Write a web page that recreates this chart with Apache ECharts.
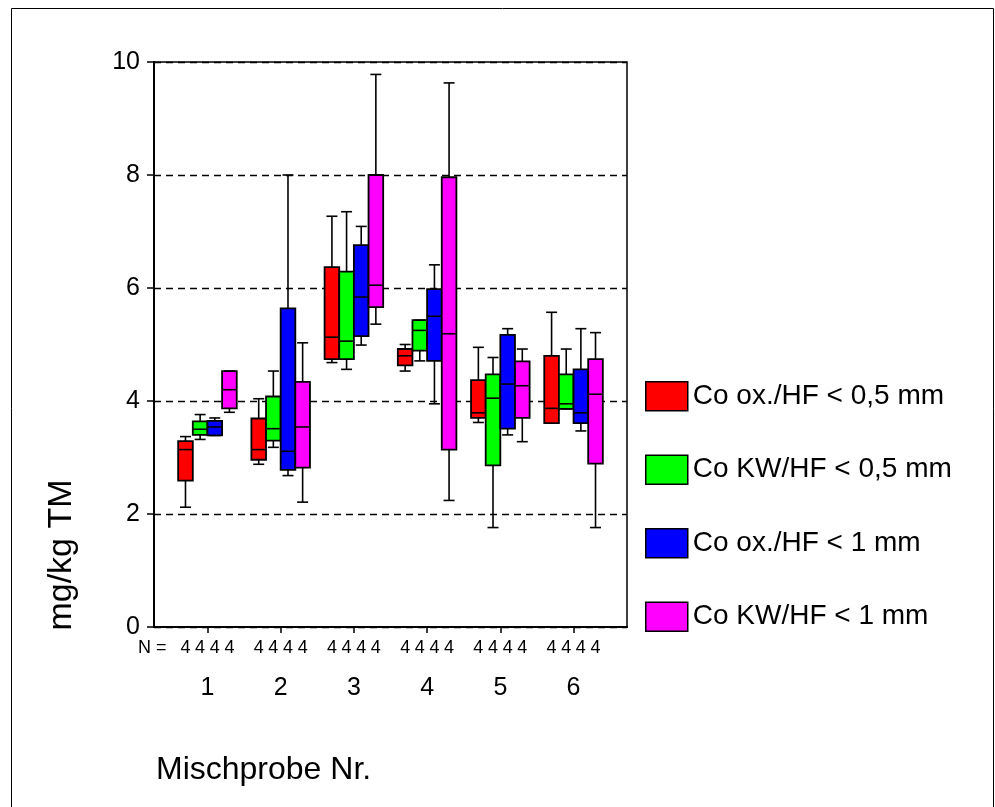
<!DOCTYPE html>
<html>
<head>
<meta charset="utf-8">
<script src="https://cdn.jsdelivr.net/npm/echarts@6/dist/echarts.min.js"></script>
<style>
html,body{margin:0;padding:0;background:#fff;}
#chart{width:995px;height:807px;}
</style>
</head>
<body>
<div id="chart"></div>
<script>
// Category labels (Mischprobe Nr.)
const categories = ['1', '2', '3', '4', '5', '6'];
// y-axis tick labels
const yTicks = [0, 2, 4, 6, 8, 10];
// N per box
const nCounts = [4, 4, 4, 4, 4, 4];
// Each entry: [min, Q1, median, Q3, max]
const oxHF05 = [
  [2.12, 2.59, 3.14, 3.29, 3.37],
  [2.88, 2.96, 3.14, 3.69, 4.04],
  [4.68, 4.74, 5.13, 6.37, 7.27],
  [4.53, 4.63, 4.80, 4.92, 5.00],
  [3.62, 3.70, 3.79, 4.37, 4.95],
  [3.61, 3.61, 3.87, 4.80, 5.57]
];
const kwHF05 = [
  [3.32, 3.40, 3.50, 3.64, 3.76],
  [3.18, 3.30, 3.51, 4.08, 4.53],
  [4.56, 4.74, 5.06, 6.29, 7.35],
  [4.71, 4.89, 5.25, 5.43, 5.43],
  [1.76, 2.86, 4.05, 4.47, 4.77],
  [3.86, 3.86, 3.95, 4.47, 4.92]
];
const oxHF1 = [
  [3.39, 3.39, 3.54, 3.65, 3.70],
  [2.68, 2.78, 3.11, 5.64, 8.00],
  [4.99, 5.15, 5.84, 6.76, 7.09],
  [3.95, 4.71, 5.50, 5.98, 6.41],
  [3.40, 3.51, 4.30, 5.17, 5.28],
  [3.47, 3.61, 3.79, 4.56, 5.28]
];
const kwHF1 = [
  [3.80, 3.87, 4.20, 4.53, 4.53],
  [2.21, 2.82, 3.54, 4.34, 5.03],
  [5.36, 5.66, 6.05, 8.00, 9.78],
  [2.24, 3.14, 5.19, 7.96, 9.63],
  [3.28, 3.70, 4.27, 4.70, 4.92],
  [1.76, 2.89, 4.12, 4.74, 5.21]
];
const seriesNames = ['Co ox./HF < 0,5 mm', 'Co KW/HF < 0,5 mm', 'Co ox./HF < 1 mm', 'Co KW/HF < 1 mm'];
const seriesColors = ['#ff0000', '#00ff00', '#0000ff', '#ff00ff'];
const seriesData = [oxHF05, kwHF05, oxHF1, kwHF1];

const FONT = '"Liberation Sans", Arial, sans-serif';
const BOXW = 0.2;
const CAPW = 0.15;
const offsets = [-0.3, -0.1, 0.1, 0.3];

function makeRender(offset, color) {
  return function (params, api) {
    const x = api.value(0) + offset;
    const lo = api.value(1), q1 = api.value(2), med = api.value(3), q3 = api.value(4), hi = api.value(5);
    const n = api.value(6);
    const pTL = api.coord([x - BOXW / 2, q3]);
    const pBR = api.coord([x + BOXW / 2, q1]);
    const pHi = api.coord([x, hi]);
    const pLo = api.coord([x, lo]);
    const pMedL = api.coord([x - BOXW / 2, med]);
    const pMedR = api.coord([x + BOXW / 2, med]);
    const capL = api.coord([x - CAPW / 2, hi]);
    const capR = api.coord([x + CAPW / 2, hi]);
    const capL2 = api.coord([x - CAPW / 2, lo]);
    const capR2 = api.coord([x + CAPW / 2, lo]);
    const base = api.coord([x, 0]);
    const ls = { stroke: '#000', lineWidth: 1.6 };
    return {
      type: 'group',
      children: [
        { type: 'line', shape: { x1: pHi[0], y1: pHi[1], x2: pHi[0], y2: pTL[1] }, style: ls },
        { type: 'line', shape: { x1: pLo[0], y1: pLo[1], x2: pLo[0], y2: pBR[1] }, style: ls },
        { type: 'line', shape: { x1: capL[0], y1: capL[1], x2: capR[0], y2: capR[1] }, style: ls },
        { type: 'line', shape: { x1: capL2[0], y1: capL2[1], x2: capR2[0], y2: capR2[1] }, style: ls },
        { type: 'rect', shape: { x: pTL[0], y: pTL[1], width: pBR[0] - pTL[0], height: pBR[1] - pTL[1] },
          style: { fill: color, stroke: '#000', lineWidth: 1.8 } },
        { type: 'line', shape: { x1: pMedL[0], y1: pMedL[1], x2: pMedR[0], y2: pMedR[1] }, style: ls },
        { type: 'text', x: base[0], y: base[1] + 21,
          style: { text: String(n), fill: '#000', font: '18px ' + FONT, textAlign: 'center', textVerticalAlign: 'middle' } }
      ]
    };
  };
}

const series = seriesData.map((arr, s) => ({
  name: seriesNames[s],
  type: 'custom',
  itemStyle: { color: seriesColors[s] },
  encode: { x: 0, y: [1, 2, 3, 4, 5] },
  clip: false,
  renderItem: makeRender(offsets[s], seriesColors[s]),
  data: categories.map((c, i) => [i + 1].concat(arr[i]).concat([nCounts[i]]))
}));

const chart = echarts.init(document.getElementById('chart'));
chart.setOption({
  animation: false,
  backgroundColor: '#fff',
  textStyle: { fontFamily: FONT, color: '#000' },
  grid: { left: 154, right: 368, top: 62, bottom: 180, show: true, borderColor: '#000', borderWidth: 1.5, backgroundColor: 'transparent' },
  xAxis: {
    type: 'value', min: 0.27, max: 6.73,
    axisLine: { show: true, onZero: false, lineStyle: { color: '#000', width: 2 } },
    axisTick: { show: true, customValues: [1, 2, 3, 4, 5, 6], length: 6, lineStyle: { color: '#000', width: 1.5 } },
    axisLabel: { customValues: [1, 2, 3, 4, 5, 6], formatter: v => categories[Math.round(v) - 1], fontSize: 25, color: '#000', margin: 49, fontFamily: FONT },
    splitLine: { show: false }
  },
  yAxis: {
    type: 'value', min: 0, max: 10, interval: 2,
    axisLine: { show: true, lineStyle: { color: '#000', width: 2 } },
    axisTick: { show: true, length: 7, lineStyle: { color: '#000', width: 1.5 } },
    axisLabel: { fontSize: 25, color: '#000', margin: 14, fontFamily: FONT, formatter: v => String(yTicks[yTicks.indexOf(v)]) },
    splitLine: { show: true, lineStyle: { color: '#000', width: 1.3, type: [7, 5] } }
  },
  legend: {
    orient: 'vertical', left: 640, top: 376,
    itemWidth: 42, itemHeight: 29, itemGap: 43,
    icon: 'rect',
    itemStyle: { borderColor: '#000', borderWidth: 1.5 },
    textStyle: { fontSize: 28, color: '#000', fontFamily: FONT },
    data: seriesNames
  },
  graphic: [
    { type: 'rect', shape: { x: 11.5, y: 8.5, width: 982, height: 820 }, style: { fill: 'none', stroke: '#000', lineWidth: 1 }, silent: true },
    { type: 'text', x: 62, y: 555, rotation: Math.PI / 2,
      style: { text: 'mg/kg TM', font: '34px ' + FONT, fill: '#000', textAlign: 'center', textVerticalAlign: 'middle' } },
    { type: 'text', x: 156, y: 770,
      style: { text: 'Mischprobe Nr.', font: '32px ' + FONT, fill: '#000', textAlign: 'left', textVerticalAlign: 'middle' } },
    { type: 'text', x: 138, y: 648,
      style: { text: 'N =', font: '18px ' + FONT, fill: '#000', textAlign: 'left', textVerticalAlign: 'middle' } }
  ],
  series: series
});
</script>
</body>
</html>
